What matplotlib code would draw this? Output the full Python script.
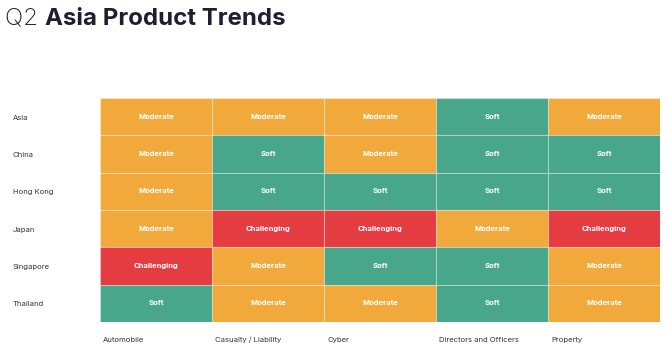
import matplotlib
matplotlib.use("Agg")
import matplotlib.pyplot as plt
from matplotlib.patches import Rectangle

regions = ["Asia", "China", "Hong Kong", "Japan", "Singapore", "Thailand"]
products = ["Automobile", "Casualty / Liability", "Cyber", "Directors and Officers", "Property"]
trends = [
    ["Moderate", "Moderate", "Moderate", "Soft", "Moderate"],
    ["Moderate", "Soft", "Moderate", "Soft", "Soft"],
    ["Moderate", "Soft", "Soft", "Soft", "Soft"],
    ["Moderate", "Challenging", "Challenging", "Moderate", "Challenging"],
    ["Challenging", "Moderate", "Soft", "Soft", "Moderate"],
    ["Soft", "Moderate", "Moderate", "Soft", "Moderate"],
]
colors = {"Moderate": "#F2A93C", "Soft": "#48A68A", "Challenging": "#E53C42"}

plt.rcParams['font.family'] = ['Inter', 'DejaVu Sans']
fig = plt.figure(figsize=(6.7, 3.5), dpi=100)
W, H = 670, 350
ax = fig.add_axes([100 / W, 1 - 322 / H, 560 / W, 224 / H])
nr, nc = len(regions), len(products)
for i, row in enumerate(trends):
    for j, val in enumerate(row):
        ax.add_patch(Rectangle((j, i), 1, 1, facecolor=colors[val],
                               edgecolor=(1, 1, 1, 0.3), linewidth=0.8))
        ax.text(j + 0.5, i + 0.5, val, ha="center", va="center",
                color="white", fontsize=5.5, fontweight="bold")
ax.set_xlim(0, nc)
ax.set_ylim(nr, 0)
ax.axis("off")

for i, r in enumerate(regions):
    ax.text(-87 / 112, i + 0.53, r, ha="left", va="center", fontsize=5.5, color="#333340")
for j, p in enumerate(products):
    ax.text(j + 3 / 112, nr + 18 / 37.33, p, ha="left", va="center", fontsize=5.5, color="#333340")

fig.text(5 / W, 1 - 19 / H, "Q2 ", fontsize=17.3, fontweight="light", color="#1e2030",
         ha="left", va="center")
fig.canvas.draw()
t = fig.texts[0]
bb = t.get_window_extent(renderer=fig.canvas.get_renderer())
fig.text(bb.x1 / W, 1 - 19 / H, "Asia Product Trends", fontsize=17.3, fontweight="bold",
         color="#1e2030", ha="left", va="center")

fig.savefig("out.png", dpi=100)
